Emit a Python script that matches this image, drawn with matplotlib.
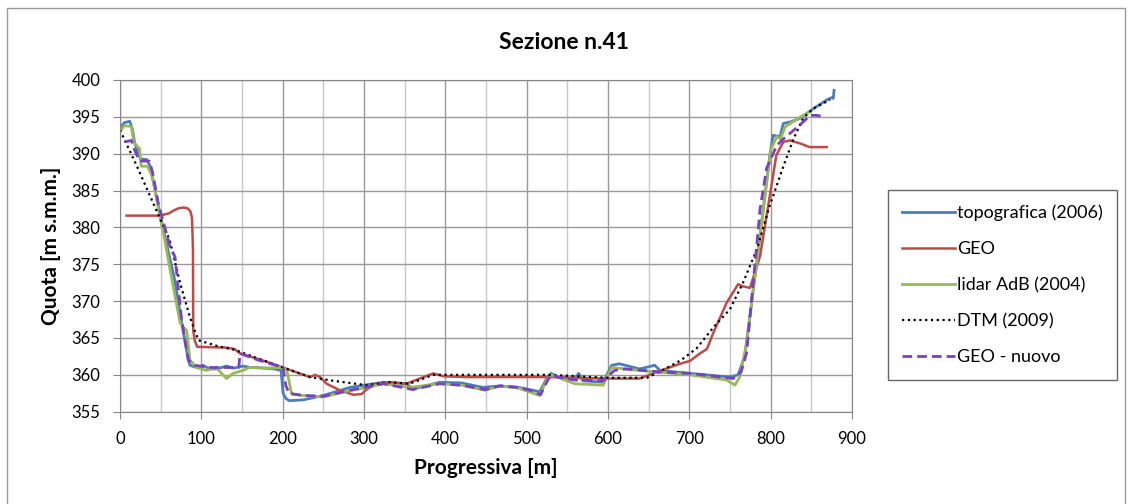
import matplotlib
matplotlib.use("Agg")
import matplotlib.pyplot as plt
from matplotlib.patches import Rectangle
from matplotlib.ticker import MultipleLocator

plt.rcParams["font.family"] = ["Lato", "DejaVu Sans"]

# topografica (2006)
topo_x = [0, 5, 12, 15, 18, 25, 33, 37, 49, 59, 67, 76, 84, 86, 94, 102, 110, 118, 125, 131,
          140, 151, 160, 168, 180, 190, 198, 200.5, 204, 208, 225, 250, 283, 300, 324, 340, 352,
          360, 380, 393, 420, 446, 467, 490, 508, 516, 524.6, 530, 538, 559, 564, 569, 594, 604.5,
          614, 639, 657.5, 664, 701, 750, 760, 768, 776.6, 787, 799, 803, 811.5, 815.6, 824, 836,
          852.5, 869, 875, 877, 878]
topo_y = [393.4, 394.2, 394.4, 393.4, 391.5, 389.3, 389.2, 388.3, 381.9, 376.9, 373, 367, 362,
          361.3, 361, 361.3, 360.8, 360.8, 361, 361.2, 360.9, 361.2, 361, 361, 360.9, 360.8, 360.6,
          357.5, 356.8, 356.5, 356.6, 357.2, 358.3, 358.6, 359, 358.9, 358.8, 358.1, 358.6, 359,
          358.9, 358.3, 358.5, 358.3, 357.9, 357.7, 359.5, 360.2, 359.7, 359.5, 360.2, 359.2, 359,
          361.3, 361.5, 360.8, 361.3, 360.6, 360.2, 359.7, 360, 362.5, 369.8, 378.9, 389.8, 392.5,
          392.3, 394.1, 394.3, 394.8, 396.1, 397.3, 397.6, 397.5, 398.6]

# GEO
geo_x = [8, 49, 60, 66, 72, 78, 83, 86.5, 88.5, 89.7, 90, 92, 95, 131, 141, 147.6, 180, 200, 233.6,
         240, 246, 254, 270.5, 287, 297, 303, 315, 332, 352, 364, 385, 398, 426, 528, 594, 639, 660,
         688.5, 701, 713, 721.6, 729.5, 746, 760, 766, 774.6, 787, 799, 807, 815.6, 824, 836, 848,
         869]
geo_y = [381.6, 381.6, 381.9, 382.3, 382.6, 382.7, 382.6, 382.2, 381.3, 377, 366, 364.6, 363.8,
         363.7, 363.5, 362.9, 361.8, 361, 359.7, 360, 359.7, 358.8, 357.9, 357.3, 357.4, 358, 358.8,
         359, 358.8, 359.3, 360.2, 359.8, 359.7, 359.7, 359.5, 359.5, 360.4, 361.5, 361.9, 362.9,
         363.5, 365.7, 369.8, 372.3, 372.0, 371.8, 376.1, 384.3, 389.8, 391.6, 391.8, 391.4, 390.9,
         390.9]

# lidar AdB (2004)
lidar_x = [0, 5, 14, 17, 24, 26, 34, 40, 49, 55, 62, 74, 82, 86, 94, 106, 118, 131, 139, 151, 159,
           176, 197, 205, 211, 225, 250, 283, 300, 324, 356, 393, 420, 449, 467, 490, 516, 524.6,
           530, 559, 594, 604.5, 639, 701, 746, 756, 762, 770.5, 787, 800, 807.4, 812, 817.6, 824,
           840, 848.4]
lidar_y = [393.0, 393.8, 393.7, 391.5, 390.7, 388.3, 388.3, 386.8, 381.5, 378.3, 374, 367, 366, 362,
           361, 360.6, 361, 359.5, 360.2, 360.6, 361, 360.9, 361, 360.7, 357.4, 357.2, 357, 357.9,
           358.2, 358.8, 358.3, 358.8, 358.6, 357.9, 358.5, 358.2, 357.2, 359.3, 360, 358.8, 358.6,
           361, 360.6, 360, 359.3, 358.6, 359.7, 364.3, 378.9, 390.5, 392.3, 392.0, 393.6, 394.1,
           395.2, 395.7]

# DTM (2009)
dtm_x = [0, 20, 40, 61, 74, 86, 96.3, 123, 141, 170, 200.5, 233.6, 262, 303, 332, 356, 385, 528,
         600, 648, 670, 690, 709, 730, 750, 766, 783, 799, 816, 828, 840, 852, 873]
dtm_y = [393.2, 388.5, 383.5, 378.3, 372.4, 367.8, 364.7, 363.8, 363.4, 362.2, 361, 359.7, 359.2,
         358.6, 359, 358.8, 360, 360, 359.6, 359.6, 360.8, 362.0, 363.6, 366.5, 368.9, 372.5, 377,
         383, 388.4, 392, 394.8, 396.1, 397.3]

# GEO - nuovo
nuovo_x = [6, 14, 18, 24, 36, 40, 47, 61.5, 67.6, 75.8, 84, 92, 110, 125, 146, 147.6, 170, 200.5,
           204, 208, 225, 250, 283, 324, 360, 393, 420, 449, 467, 490, 508, 517, 526, 530, 538, 559,
           594, 608, 622, 664, 701, 754, 762, 764, 770.5, 787, 795, 807.4, 815.6, 836, 848.4, 856.6,
           867]
nuovo_y = [391.6, 391.8, 390.5, 389, 389, 387.5, 383.3, 377.4, 376, 367.4, 362, 361.3, 361, 361, 361,
           362.9, 362, 361, 358.5, 357.5, 357.2, 357.1, 357.9, 358.8, 358.0, 358.8, 358.6, 358.0,
           358.5, 358.3, 357.8, 357.3, 359.3, 360, 359.7, 359.3, 359.2, 360.6, 360.8, 360.4, 360.2,
           359.5, 360.2, 360.5, 363, 382.5, 388, 391.1, 392, 393.9, 395.2, 395.2, 395]

fig = plt.figure(figsize=(11.28, 5.04), dpi=100)
ax = fig.add_axes([0.1064, 0.1831, 0.6489, 0.6582])

ax.plot(topo_x, topo_y, color="#4A7EBB", lw=2.0, label="topografica (2006)")
ax.plot(geo_x, geo_y, color="#BE4B48", lw=1.8, label="GEO")
ax.plot(lidar_x, lidar_y, color="#98B954", lw=2.0, label="lidar AdB (2004)")
ax.plot(dtm_x, dtm_y, color="black", lw=1.6, ls=(0, (1, 1.6)), label="DTM (2009)")
ax.plot(nuovo_x, nuovo_y, color="#7B3FC4", lw=2.0, ls=(0, (3.5, 1.8)), label="GEO - nuovo")

ax.set_xlim(0, 900)
ax.set_ylim(355, 400)
ax.xaxis.set_major_locator(MultipleLocator(100))
ax.xaxis.set_minor_locator(MultipleLocator(50))
ax.yaxis.set_major_locator(MultipleLocator(5))
ax.grid(which="major", color="#9A9A9A", lw=1.0)
ax.grid(which="minor", axis="x", color="#C8C8C8", lw=1.0)
ax.set_axisbelow(True)
ax.tick_params(which="major", direction="out", length=5, color="#868686", labelsize=12)
ax.tick_params(axis="x", which="major", pad=9)
ax.tick_params(axis="y", which="major", pad=9)
ax.tick_params(which="minor", length=0)
for s in ax.spines.values():
    s.set_color("#868686")

ax.set_xlabel("Progressiva [m]", fontsize=15, fontweight="bold", labelpad=8)
ax.set_ylabel("Quota [m s.m.m.]", fontsize=15, fontweight="bold", labelpad=8)
fig.text(0.5, 0.915, "Sezione n.41", ha="center", va="center", fontsize=16.5, fontweight="bold")

leg = ax.legend(loc="center left", bbox_to_anchor=(0.787, 0.4345), bbox_transform=fig.transFigure,
                fancybox=False, frameon=True, fontsize=13, labelspacing=1.1, handlelength=2.9,
                handletextpad=0.15, borderpad=0.8, borderaxespad=0)
leg.get_frame().set_edgecolor("#404040")
leg.get_frame().set_linewidth(1.0)

# outer chart border
fig.patches.append(Rectangle((7 / 1128, -0.01), 1118 / 1128, 1 - 8 / 504 + 0.01,
                             transform=fig.transFigure, fill=False, edgecolor="#9A9A9A", lw=1.0))

fig.savefig("out.png", dpi=100)
